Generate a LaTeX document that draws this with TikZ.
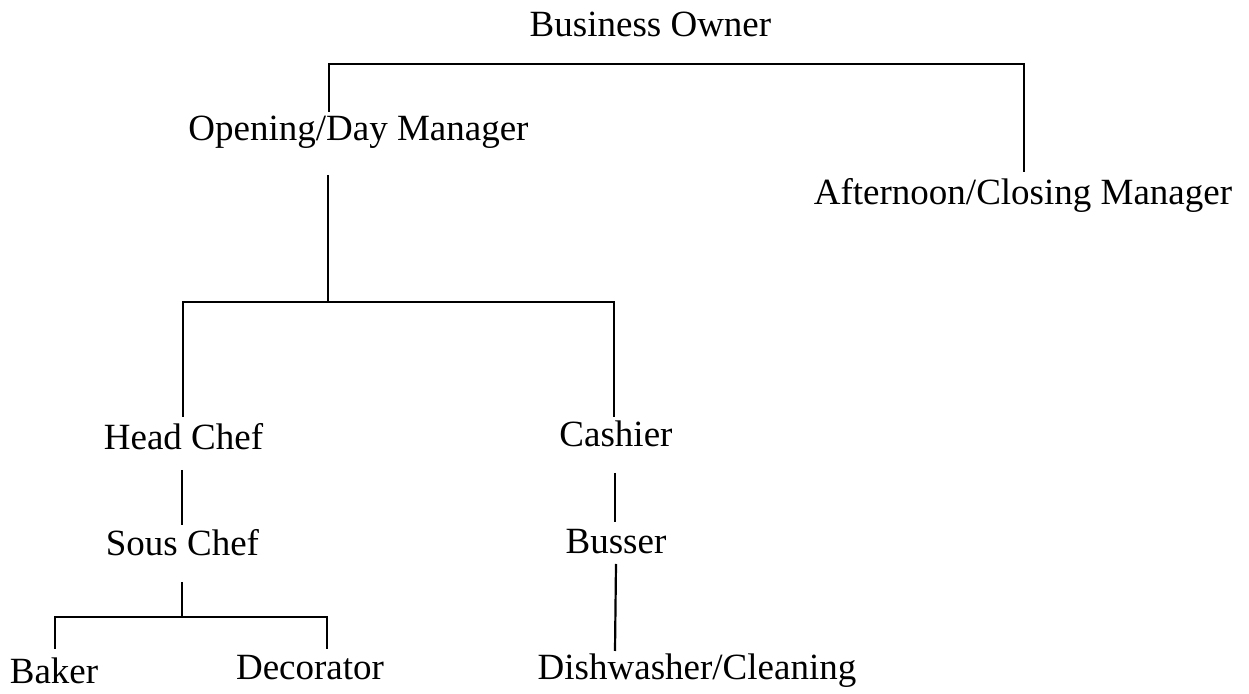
\documentclass[tikz,border=0pt]{standalone}
\usepackage{fontspec}
\setmainfont{Liberation Serif}

\begin{document}
\begin{tikzpicture}
[x=0.5pt,y=-0.5pt,%
  roleNode/.style={anchor=base,inner sep=0pt,font=\fontsize{18.5}{22}\selectfont},
  lineDecorate/.style={-,line width=1.1pt}]
\useasboundingbox (0,0) rectangle (1249,694);
%% nodes or roles
\foreach \nodename/\x/\y/\role in {
  owner/650.5/37/{Business Owner},
  dayman/358.5/141/{Opening/Day Manager},
  closeman/1023/205/{Afternoon/Closing Manager},
  headchef/183.5/450/{Head Chef},
  cashier/616/447/{Cashier},
  souschef/182.5/556/{Sous Chef},
  busser/616/554/{Busser},
  baker/54/684/{Baker},
  decorator/310/680/{Decorator},
  dishwasher/697/680/{Dishwasher/Cleaning}}
{
  \node (\nodename) at (\x,\y) [roleNode] {\role};
}
%% end points and corners of the lines
\foreach \ptname/\x/\y in {
  d1/329/112, d2/329/64, c2/1024/64, c1/1024/172,
  dm/328/175, mj/328/302,
  h1/183/417, h2/183/302, k2/614/302, k1/614/417,
  hs1/182/470, hs2/182/525, kb1/615/473, kb2/615/522,
  s1/182/582, s2/182/617,
  b1/55/649, b2/55/617, e2/327/617, e1/327/649,
  w1/616/564, w2/615/651}
{
  \coordinate (\ptname) at (\x,\y);
}
%% lines
\draw[lineDecorate] (d1) -- (d2) -- (c2) -- (c1);
\draw[lineDecorate] (dm) -- (mj);
\draw[lineDecorate] (h1) -- (h2) -- (k2) -- (k1);
\draw[lineDecorate] (hs1) -- (hs2);
\draw[lineDecorate] (kb1) -- (kb2);
\draw[lineDecorate] (s1) -- (s2);
\draw[lineDecorate] (b1) -- (b2) -- (e2) -- (e1);
\draw[lineDecorate] (w1) -- (w2);
\end{tikzpicture}
\end{document}
